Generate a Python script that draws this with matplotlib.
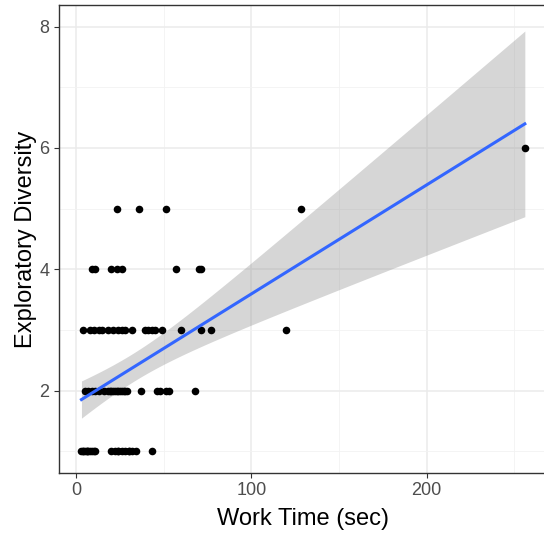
import numpy as np
import matplotlib
matplotlib.use("Agg")
import matplotlib.pyplot as plt
from matplotlib.ticker import MultipleLocator

# Data
work_time_1 = [3, 4, 4, 5, 6, 6, 7, 8, 9, 10, 11, 20, 22, 24, 24, 26, 28, 30, 30, 32, 34, 43]
work_time_2 = [5, 7, 9, 11, 13, 16, 18, 19, 20, 21, 22, 23, 24, 25, 26, 27, 28, 29,
               37, 46, 48, 51, 53, 68]
work_time_3 = [4, 8, 10, 13, 15, 18, 21, 24, 26, 28, 32, 39, 41, 43, 45, 49, 60, 71, 77, 120]
work_time_4 = [9, 11, 20, 23, 26, 57, 70, 71]
work_time_5 = [23, 36, 51, 128]
work_time_6 = [256]

groups = {1: work_time_1, 2: work_time_2, 3: work_time_3, 4: work_time_4,
          5: work_time_5, 6: work_time_6}
x = np.concatenate([np.array(v, float) for v in groups.values()])
y = np.concatenate([np.full(len(v), k, float) for k, v in groups.items()])

# Linear fit with 95% confidence band
n = len(x)
b1, b0 = np.polyfit(x, y, 1)
resid = y - (b0 + b1 * x)
s = np.sqrt(np.sum(resid ** 2) / (n - 2))
xbar = x.mean()
sxx = np.sum((x - xbar) ** 2)
t_crit = 1.99
xs = np.linspace(x.min(), x.max(), 200)
yhat = b0 + b1 * xs
se = s * np.sqrt(1 / n + (xs - xbar) ** 2 / sxx)
lo, hi = yhat - t_crit * se, yhat + t_crit * se

plt.rcParams['font.family'] = ['Liberation Sans', 'DejaVu Sans']
fig = plt.figure(figsize=(5.44, 5.33), dpi=100)
ax = fig.add_axes([0.109, 0.1135, 0.8965, 0.8765])

xr = x.max() - x.min()
ax.set_xlim(x.min() - 0.05 * xr, x.max() + 0.05 * xr)
ax.set_ylim(0.65, 8.35)

ax.xaxis.set_major_locator(MultipleLocator(100))
ax.xaxis.set_minor_locator(MultipleLocator(50))
ax.yaxis.set_major_locator(MultipleLocator(2))
ax.yaxis.set_minor_locator(MultipleLocator(1))
ax.grid(which='major', color='#EBEBEB', linewidth=1.1)
ax.grid(which='minor', color='#F2F2F2', linewidth=0.6)
ax.set_axisbelow(True)

ax.fill_between(xs, lo, hi, color='#999999', alpha=0.4, linewidth=0, zorder=2)
ax.scatter(x, y, s=30, color='black', linewidths=0, zorder=3)
ax.plot(xs, yhat, color='#3366FF', linewidth=2.2, zorder=4)

for sp in ax.spines.values():
    sp.set_color('#333333')
    sp.set_linewidth(1.0)
ax.spines['right'].set_visible(False)

ax.tick_params(which='major', length=3.5, width=0.8, color='#333333',
               labelcolor='#4D4D4D', labelsize=13)
ax.tick_params(which='minor', length=0)
ax.set_xlabel('Work Time (sec)', fontsize=17, color='black', labelpad=6)
ax.set_ylabel('Exploratory Diversity', fontsize=17, color='black', labelpad=1.5)

fig.savefig('out.png', dpi=100)
